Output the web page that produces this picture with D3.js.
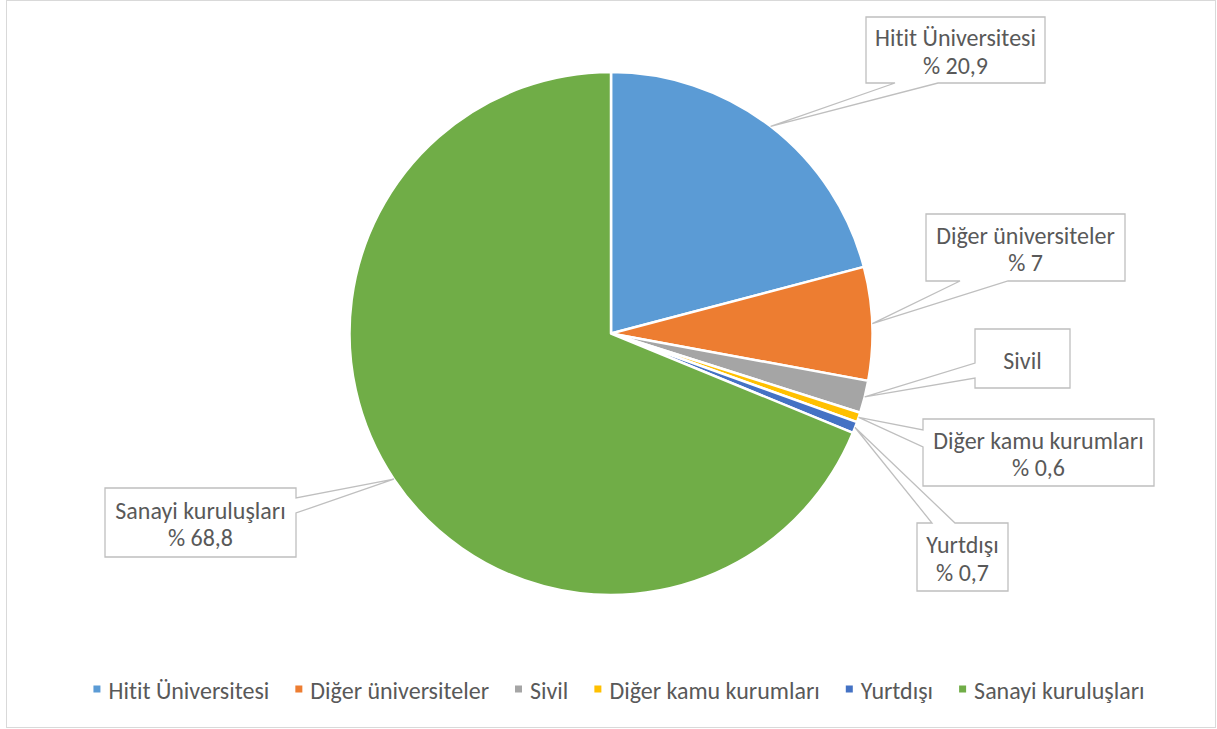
<!DOCTYPE html>
<html><head><meta charset="utf-8">
<script src="https://cdn.jsdelivr.net/npm/d3@7"></script>
<style>html,body{margin:0;padding:0;background:#fff;}svg{display:block;}text{font-variant-ligatures:none;font-feature-settings:"liga" 0;}</style>
</head><body>
<svg id="chart" width="1217" height="729"></svg>
<script>
const categories = ["Hitit Üniversitesi", "Diğer üniversiteler", "Sivil", "Diğer kamu kurumları", "Yurtdışı", "Sanayi kuruluşları"];
const values = [20.9, 7.0, 2.0, 0.6, 0.7, 68.8];
const valueLabels = ["% 20,9", "% 7", "", "% 0,6", "% 0,7", "% 68,8"];
const colors = ["#5B9BD5", "#ED7D31", "#A5A5A5", "#FFC000", "#4472C4", "#70AD47"];

// label box layout: [x0, y0, x1, y1], edge where callout attaches, base positions along edge
const labelLayout = [
  {box:[866,17,1045,83], edge:"bottom", base:[895,938]},
  {box:[926,214,1125,281], edge:"bottom", base:[960,1008]},
  {box:[975,329,1070,388], edge:"left", base:[363,378]},
  {box:[923,419,1154,486], edge:"left", base:[430,447]},
  {box:[917,523,1008,591], edge:"top", base:[932,955]},
  {box:[105,488,296,557], edge:"right", base:[498,513]}
];

const svg = d3.select("#chart");
const textColor = "#595959";
const font = "Carlito, Calibri, 'Noto Sans', sans-serif";

svg.append("rect").attr("x",6.5).attr("y",0.5).attr("width",1209).attr("height",727)
  .attr("fill","#fff").attr("stroke","#d9d9d9").attr("stroke-width",1);

const probe = svg.append("text").attr("font-family",font).attr("font-size",18).text(categories[0]);
const w18 = probe.node().getComputedTextLength();
probe.remove();
const fs = 18 * 161 / w18;

const cx = 611, cy = 333.5, r = 261.5;
const pie = d3.pie().sort(null).value(d => d)(values);
const arc = d3.arc().innerRadius(0).outerRadius(r);
const g = svg.append("g").attr("transform",`translate(${cx},${cy})`);
g.selectAll("path").data(pie).join("path")
  .attr("d",arc).attr("fill",(d,i)=>colors[i])
  .attr("stroke","#fff").attr("stroke-width",2.5).attr("stroke-linejoin","round");

pie.forEach((d,i)=>{
  const L = labelLayout[i];
  const mid = (d.startAngle + d.endAngle)/2;
  const tip = [cx + r*Math.sin(mid), cy - r*Math.cos(mid)];
  const [x0,y0,x1,y1] = L.box;
  let pts;
  if (L.edge==="bottom") pts=[[x0,y0],[x1,y0],[x1,y1],[L.base[1],y1],tip,[L.base[0],y1],[x0,y1]];
  else if (L.edge==="top") pts=[[x0,y0],[L.base[0],y0],tip,[L.base[1],y0],[x1,y0],[x1,y1],[x0,y1]];
  else if (L.edge==="left") pts=[[x0,y0],[x1,y0],[x1,y1],[x0,y1],[x0,L.base[1]],tip,[x0,L.base[0]]];
  else pts=[[x0,y0],[x1,y0],[x1,L.base[0]],tip,[x1,L.base[1]],[x1,y1],[x0,y1]];
  svg.append("path").attr("d", d3.line()(pts)+"Z")
    .attr("fill","#fff").attr("stroke","#bfbfbf").attr("stroke-width",1.3);
  const tx = (x0+x1)/2, tyc = (y0+y1)/2;
  const lines = valueLabels[i] ? [categories[i], valueLabels[i]] : [categories[i]];
  const lh = 27.5;
  lines.forEach((t,j)=>{
    const y = tyc + (j - (lines.length-1)/2)*lh + 1.5;
    svg.append("text").attr("x",tx).attr("y",y).attr("text-anchor","middle")
      .attr("dominant-baseline","central").attr("font-family",font).attr("font-size",fs)
      .attr("fill",textColor).text(t);
  });
});

const legend = svg.append("g");
const items = legend.selectAll("g").data(categories).join("g");
items.append("rect").attr("width",7).attr("height",7).attr("y",-3.5).attr("fill",(d,i)=>colors[i]);
items.append("text").attr("x",15).attr("dominant-baseline","central").attr("y",1)
  .attr("font-family",font).attr("font-size",fs).attr("fill",textColor).text(d=>d);
let xPos = 0; const gap = 26;
const offsets = [];
items.each(function(){
  const tw = d3.select(this).select("text").node().getComputedTextLength();
  offsets.push(xPos); xPos += 15 + tw + gap;
});
const totalW = xPos - gap;
const startX = (93 + 1145)/2 - totalW/2;
items.attr("transform",(d,i)=>`translate(${startX+offsets[i]},689)`);
</script>
</body></html>
